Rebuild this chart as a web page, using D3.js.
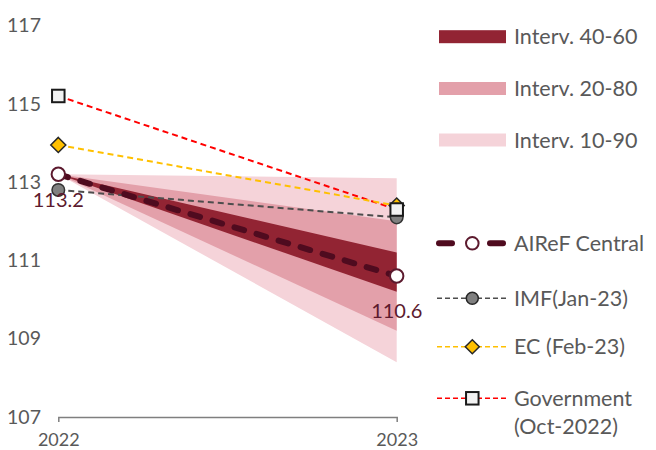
<!DOCTYPE html>
<html>
<head>
<meta charset="utf-8">
<script src="https://cdn.jsdelivr.net/npm/d3@7"></script>
<style>
  html, body { margin: 0; padding: 0; background: #fff; }
  svg text { font-family: Lato, "Open Sans", sans-serif; }
</style>
</head>
<body>
<svg id="chart" width="656" height="450"></svg>
<script>
// Years on the horizontal axis
const years = [2022, 2023];
const yTicks = [107, 109, 111, 113, 115, 117];

// AIReF central path and its fan of probability intervals
const airefCentral = [113.2, 110.6];
const band4060 = { lo: [113.2, 110.2], hi: [113.2, 111.2] };
const band2080 = { lo: [113.2, 109.2], hi: [113.2, 112.0] };
const band1090 = { lo: [113.2, 108.4], hi: [113.2, 113.1] };

// Other institutions' forecasts
const imf = [112.8, 112.1];
const ec = [113.95, 112.4];
const government = [115.2, 112.3];

const svg = d3.select("#chart");
const x = d3.scalePoint().domain(years).range([58.3, 396.7]);
const y = d3.scaleLinear().domain([107, 117]).range([417, 25.5]);

const textColor = "#595959";
const legendSize = 21.5;

// Fan bands, widest first
function bandArea(band) {
  return d3.area()
    .x((d, i) => x(years[i]))
    .y0((d, i) => y(band.lo[i]))
    .y1((d, i) => y(band.hi[i]))(years);
}
svg.append("path").attr("d", bandArea(band1090)).attr("fill", "#f5d3d9");
svg.append("path").attr("d", bandArea(band2080)).attr("fill", "#e3a0aa");
svg.append("path").attr("d", bandArea(band4060)).attr("fill", "#922433");

// Axes
const xAxis = svg.append("g")
  .attr("transform", `translate(0,417)`)
  .call(d3.axisBottom(x).tickSizeInner(0).tickSizeOuter(5).tickPadding(16));
xAxis.select(".domain").attr("stroke", "#7f7f7f").attr("stroke-width", 1.5);
xAxis.selectAll("text").attr("fill", textColor).attr("font-size", 18);

const yAxis = svg.append("g")
  .attr("transform", `translate(41,0)`)
  .call(d3.axisLeft(y).tickValues(yTicks).tickSize(0).tickPadding(0));
yAxis.select(".domain").remove();
yAxis.selectAll("text").attr("fill", textColor).attr("font-size", 19.5);

const line = d3.line().x((d, i) => x(years[i])).y(d => y(d));

// Government
svg.append("path").attr("d", line(government)).attr("fill", "none")
  .attr("stroke", "#ff0000").attr("stroke-width", 2).attr("stroke-dasharray", "6,4");
// EC
svg.append("path").attr("d", line(ec)).attr("fill", "none")
  .attr("stroke", "#ffc000").attr("stroke-width", 2).attr("stroke-dasharray", "6,4");
// IMF
svg.append("path").attr("d", line(imf)).attr("fill", "none")
  .attr("stroke", "#4d4d4d").attr("stroke-width", 2).attr("stroke-dasharray", "6,4");

function drawCircle(g, cx, cy, fill, stroke, r, sw) {
  g.append("circle").attr("cx", cx).attr("cy", cy).attr("r", r)
    .attr("fill", fill).attr("stroke", stroke).attr("stroke-width", sw);
}
function drawDiamond(g, cx, cy, s) {
  g.append("path")
    .attr("d", `M${cx},${cy - s}L${cx + s},${cy}L${cx},${cy + s}L${cx - s},${cy}Z`)
    .attr("fill", "#ffc000").attr("stroke", "#262626").attr("stroke-width", 1.5);
}
function drawSquare(g, cx, cy, s) {
  g.append("rect").attr("x", cx - s / 2).attr("y", cy - s / 2)
    .attr("width", s).attr("height", s)
    .attr("fill", "#f2f2f2").attr("stroke", "#1a1a1a").attr("stroke-width", 2);
}

imf.forEach((v, i) => drawCircle(svg, x(years[i]), y(v), "#808080", "#333", 6.3, 1.5));
ec.forEach((v, i) => drawDiamond(svg, x(years[i]), y(v), 7.5));
government.forEach((v, i) => drawSquare(svg, x(years[i]), y(v), 12.5));

// AIReF central line on top
svg.append("path").attr("d", line(airefCentral)).attr("fill", "none")
  .attr("stroke", "#4f0b1f").attr("stroke-width", 6).attr("stroke-linecap", "round")
  .attr("stroke-dasharray", "10,13");
airefCentral.forEach((v, i) => drawCircle(svg, x(years[i]), y(v), "#fff", "#5c1a2e", 6.7, 2));

// Value labels
svg.append("text").attr("x", x(2022)).attr("y", y(airefCentral[0]) + 33)
  .attr("text-anchor", "middle").attr("fill", "#5c1a2e").attr("font-size", 20)
  .text(d3.format(".1f")(airefCentral[0]));
svg.append("text").attr("x", x(2023)).attr("y", y(airefCentral[1]) + 42)
  .attr("text-anchor", "middle").attr("fill", "#5c1a2e").attr("font-size", 20)
  .text(d3.format(".1f")(airefCentral[1]));

// Legend
const legendText = 514;
const legend = svg.append("g");
const swatches = [
  { label: "Interv. 40-60", color: "#922433", cy: 36.7 },
  { label: "Interv. 20-80", color: "#e3a0aa", cy: 88.5 },
  { label: "Interv. 10-90", color: "#f5d3d9", cy: 140 }
];
swatches.forEach(s => {
  legend.append("rect").attr("x", 439).attr("y", s.cy - 6.5)
    .attr("width", 67).attr("height", 13).attr("fill", s.color);
  legend.append("text").attr("x", legendText).attr("y", s.cy).attr("dy", "0.35em")
    .attr("fill", textColor).attr("font-size", legendSize).text(s.label);
});

// AIReF legend entry: two thick dashes either side of the marker
const lyA = 243.3;
[[439, 452], [490, 503]].forEach(([a, b]) => {
  legend.append("path").attr("d", `M${a},${lyA}H${b}`).attr("stroke", "#4f0b1f")
    .attr("stroke-width", 6).attr("stroke-linecap", "round");
});
drawCircle(legend, 472.3, lyA, "#fff", "#5c1a2e", 6.3, 2);
legend.append("text").attr("x", legendText).attr("y", lyA).attr("dy", "0.35em")
  .attr("fill", textColor).attr("font-size", legendSize).text("AIReF Central");

// IMF legend entry
const lyI = 298.3;
legend.append("path").attr("d", `M437,${lyI}H506`).attr("stroke", "#4d4d4d")
  .attr("stroke-width", 1.5).attr("stroke-dasharray", "5,3");
drawCircle(legend, 472.3, lyI, "#808080", "#262626", 6, 1.5);
legend.append("text").attr("x", legendText).attr("y", lyI).attr("dy", "0.35em")
  .attr("fill", textColor).attr("font-size", legendSize).text("IMF(Jan-23)");

// EC legend entry
const lyE = 346.7;
legend.append("path").attr("d", `M437,${lyE}H506`).attr("stroke", "#ffc000")
  .attr("stroke-width", 1.5).attr("stroke-dasharray", "5,3");
drawDiamond(legend, 472.3, lyE, 7);
legend.append("text").attr("x", legendText).attr("y", lyE).attr("dy", "0.35em")
  .attr("fill", textColor).attr("font-size", legendSize).text("EC (Feb-23)");

// Government legend entry
const lyG = 398.3;
legend.append("path").attr("d", `M437,${lyG}H506`).attr("stroke", "#ff0000")
  .attr("stroke-width", 1.5).attr("stroke-dasharray", "5,3");
drawSquare(legend, 472.3, lyG, 12.5);
legend.append("text").attr("x", legendText).attr("y", lyG).attr("dy", "0.35em")
  .attr("fill", textColor).attr("font-size", legendSize).text("Government");
legend.append("text").attr("x", legendText).attr("y", 426.7).attr("dy", "0.35em")
  .attr("fill", textColor).attr("font-size", legendSize).text("(Oct-2022)");
</script>
</body>
</html>
